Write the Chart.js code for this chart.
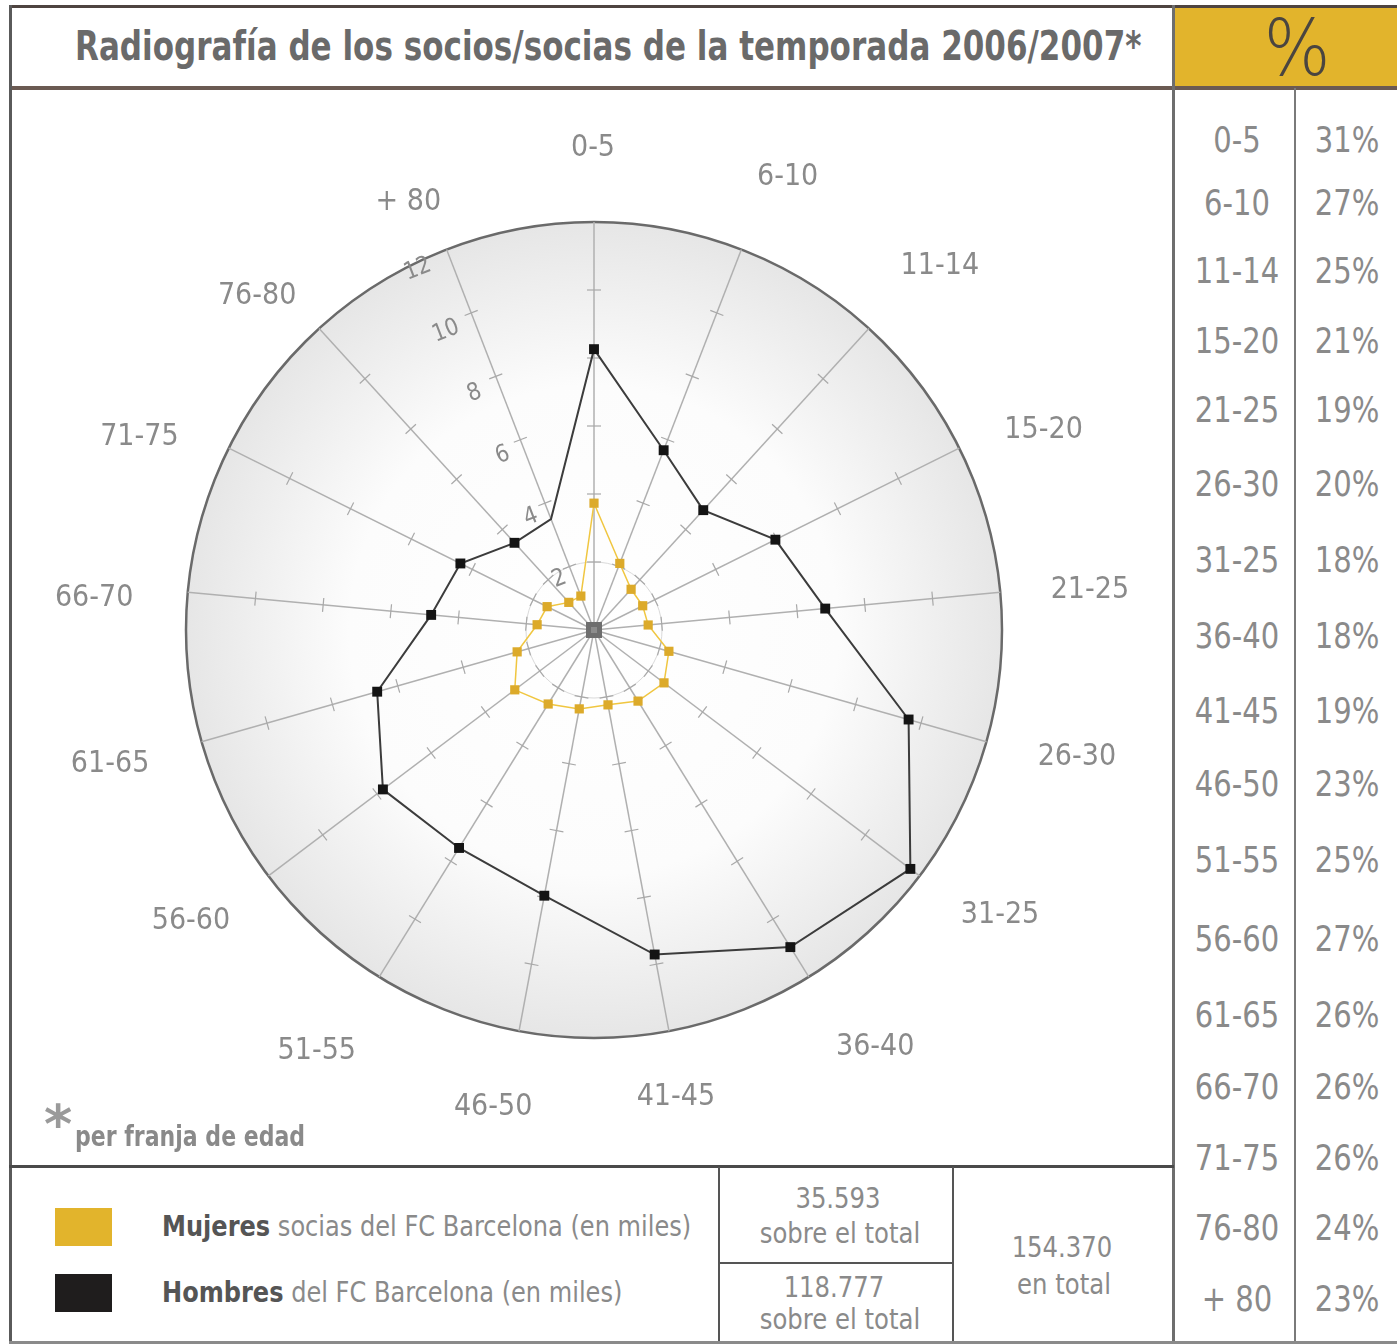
<!DOCTYPE html>
<html>
<head>
<meta charset="utf-8">
<script src="https://cdn.jsdelivr.net/npm/chart.js@4.4.1/dist/chart.umd.min.js"></script>
<style>
  body { margin: 0; background: #fff; font-family: "DejaVu Sans", sans-serif; }
  #page { position: relative; width: 1397px; height: 1344px; overflow: hidden; }
  .abs { position: absolute; white-space: nowrap; }
  .line { position: absolute; }
  .txt { position: absolute; color: #8a8a8a; white-space: nowrap; transform: translate(-50%, -50%) scaleX(0.84); }
  .narrow { transform-origin: left center; }
  #chart { position: absolute; left: 10px; top: 90px; }
</style>
</head>
<body>
<div id="page">
  <!-- cabecera -->
  <div class="abs" style="left:1174px;top:8px;width:223px;height:79px;background:#e2b42c;"></div>
  <div class="txt" style="left:1297px;top:48px;font-size:78px;font-weight:200;color:#4a4540;transform:translate(-50%,-50%) scaleX(0.9);">%</div>
  <div class="abs narrow" style="left:75px;top:22px;font-size:41px;font-weight:bold;color:#6a6a6a;transform:scaleX(0.757);">Radiografía de los socios/socias de la temporada 2006/2007*</div>

  <!-- marco -->
  <div class="line" style="left:9px;top:5px;width:1388px;height:3px;background:#4e4440;"></div>
  <div class="line" style="left:9px;top:86px;width:1388px;height:4px;background:#6b5a52;"></div>
  <div class="line" style="left:9px;top:5px;width:3px;height:1339px;background:#5a5a5a;"></div>
  <div class="line" style="left:1172px;top:5px;width:3px;height:1339px;background:#6e6e6e;"></div>
  <div class="line" style="left:1294px;top:88px;width:2px;height:1256px;background:#7a7a7a;"></div>
  <div class="line" style="left:9px;top:1165px;width:1165px;height:3px;background:#4a4a4a;"></div>
  <div class="line" style="left:718px;top:1167px;width:2px;height:177px;background:#555;"></div>
  <div class="line" style="left:952px;top:1167px;width:2px;height:177px;background:#555;"></div>
  <div class="line" style="left:718px;top:1262px;width:236px;height:2px;background:#555;"></div>
  <div class="line" style="left:9px;top:1341px;width:1388px;height:3px;background:#8a8a8a;"></div>

  <canvas id="chart" width="1162" height="1075"></canvas>

  <!-- nota -->
  <div class="abs" style="left:44px;top:1093px;font-size:54px;font-weight:bold;color:#9a9a9a;">*</div>
  <div class="abs narrow" style="left:75px;top:1120px;font-size:28px;font-weight:bold;color:#8a8a8a;transform:scaleX(0.787);">per franja de edad</div>

  <!-- leyenda -->
  <div id="legend"></div>
  <div class="txt" style="left:838px;top:1198px;font-size:29px;">35.593</div>
  <div class="txt" style="left:840px;top:1233px;font-size:29px;">sobre el total</div>
  <div class="txt" style="left:834px;top:1287px;font-size:29px;">118.777</div>
  <div class="txt" style="left:840px;top:1319px;font-size:29px;">sobre el total</div>
  <div class="txt" style="left:1062px;top:1247px;font-size:29px;">154.370</div>
  <div class="txt" style="left:1064px;top:1284px;font-size:29px;">en total</div>

  <div id="table"></div>
</div>

<script>
// franjas de edad
const categories = ['0-5', '6-10', '11-14', '15-20', '21-25', '26-30', '31-25', '36-40', '41-45',
    '46-50', '51-55', '56-60', '61-65', '66-70', '71-75', '76-80', '+ 80']
// socios en miles
const hombres = [8.26, 5.67, 4.77, 5.96, 6.83, 9.62, 11.66, 10.97, 9.71, 7.95, 7.54, 7.78, 6.63, 4.81, 4.39, 3.47, 3.5]
const mujeres = [3.73, 2.1, 1.62, 1.6, 1.6, 2.29, 2.58, 2.46, 2.24, 2.36, 2.56, 2.92, 2.35, 1.68, 1.54, 1.1, 1.07]
// % de mujeres por franja
const porcentajes = ['31%', '27%', '25%', '21%', '19%', '20%', '18%', '18%', '19%', '23%', '25%', '27%', '26%', '26%', '26%', '24%', '23%']
const radialTicks = [2, 4, 6, 8, 10, 12]

const legendItems = [
    { bold: 'Mujeres', rest: ' socias del FC Barcelona (en miles)', color: '#e2b42c' },
    { bold: 'Hombres', rest: ' del FC Barcelona  (en miles)', color: '#1f1d1d' }
]

// maquetación: filas de la tabla y retoques de las etiquetas del radar (colocadas a mano en el original)
const rowY = [140, 203, 271, 341, 410, 484, 560, 636, 711, 784, 860, 939, 1015, 1087, 1158, 1228, 1299]
const labelNudge = [[-1, -2], [13, -5], [9, -9], [2, 14], [-2, 4], [2, -4], [7, -4], [18, 9], [-10, -5],
    [-9, 5], [-14, 13], [-4, 2], [-3, 3], [-2, 12], [-7, 21], [0, 21], [-5, 20]]

const table = document.getElementById('table')
categories.forEach((cat, i) => {
    const a = document.createElement('div')
    a.className = 'txt'
    a.style.cssText = `left:1237px;top:${rowY[i]}px;font-size:35px;transform:translate(-50%,-50%) scaleX(0.83);`
    a.textContent = cat
    table.appendChild(a)
    const b = document.createElement('div')
    b.className = 'txt'
    b.style.cssText = `left:1347px;top:${rowY[i]}px;font-size:35px;transform:translate(-50%,-50%) scaleX(0.83);`
    b.textContent = porcentajes[i]
    table.appendChild(b)
})

const legend = document.getElementById('legend')
legendItems.forEach((item, i) => {
    const y = 1227 + i * 66
    const sw = document.createElement('div')
    sw.className = 'abs'
    sw.style.cssText = `left:55px;top:${y - 19}px;width:57px;height:38px;background:${item.color};`
    legend.appendChild(sw)
    const t = document.createElement('div')
    t.className = 'abs narrow'
    t.style.cssText = `left:162px;top:${y - 18}px;font-size:29px;color:#8a8a8a;transform:scaleX(0.83);`
    t.innerHTML = `<span style="color:#555;font-weight:bold;">${item.bold}</span>${item.rest}`
    legend.appendChild(t)
})

const spokeTicks = radialTicks.filter(v => v < 12)

const radarDecor = {
    id: 'radarDecor',
    beforeDraw(chart) {
        const r = chart.scales.r
        const ctx = chart.ctx
        const R = r.getDistanceFromCenterForValue(12)
        const g = ctx.createRadialGradient(r.xCenter, r.yCenter, 0, r.xCenter, r.yCenter, R)
        g.addColorStop(0, '#ffffff')
        g.addColorStop(0.6, '#fcfcfc')
        g.addColorStop(1, '#e6e6e6')
        ctx.save()
        ctx.beginPath()
        ctx.arc(r.xCenter, r.yCenter, R, 0, Math.PI * 2)
        ctx.fillStyle = g
        ctx.fill()
        ctx.restore()
    },
    beforeDatasetsDraw(chart) {
        const r = chart.scales.r
        const ctx = chart.ctx
        ctx.save()
        // marcas en cada radio
        ctx.strokeStyle = '#a8a8a8'
        ctx.lineWidth = 1.2
        categories.forEach((c, i) => {
            spokeTicks.forEach(v => {
                const p = r.getPointPosition(i, r.getDistanceFromCenterForValue(v))
                const px = -Math.sin(p.angle), py = Math.cos(p.angle)
                ctx.beginPath()
                ctx.moveTo(p.x - px * 7, p.y - py * 7)
                ctx.lineTo(p.x + px * 7, p.y + py * 7)
                ctx.stroke()
            })
        })
        // valores de la escala sobre el radio "+ 80"
        const last = categories.length - 1
        ctx.fillStyle = '#8a8a8a'
        ctx.font = '24px "DejaVu Sans", sans-serif'
        ctx.textAlign = 'center'
        ctx.textBaseline = 'middle'
        radialTicks.forEach(v => {
            const p = r.getPointPosition(last, r.getDistanceFromCenterForValue(v) - 8)
            const off = 10 + 2 * v
            const x = p.x + Math.sin(p.angle) * off
            const y = p.y - Math.cos(p.angle) * off
            ctx.save()
            ctx.translate(x, y)
            ctx.rotate(p.angle + Math.PI / 2)
            ctx.scale(0.88, 1)
            ctx.fillText(String(v), 0, 0)
            ctx.restore()
        })
        // cuadrado central
        ctx.fillStyle = '#6e6e6e'
        ctx.fillRect(r.xCenter - 8, r.yCenter - 8, 16, 16)
        ctx.fillStyle = '#8c8c8c'
        ctx.fillRect(r.xCenter - 3, r.yCenter - 3, 6, 6)
        ctx.restore()
    },
    afterDraw(chart) {
        const r = chart.scales.r
        const ctx = chart.ctx
        ctx.save()
        ctx.fillStyle = '#8a8a8a'
        ctx.font = '30px "DejaVu Sans", sans-serif'
        ctx.textAlign = 'center'
        ctx.textBaseline = 'middle'
        categories.forEach((c, i) => {
            // dirección unitaria del radio
            const p = r.getPointPosition(i, 1)
            const dx = p.x - r.xCenter, dy = p.y - r.yCenter
            const x = r.xCenter + dx * 500 + labelNudge[i][0]
            const y = r.yCenter + dy * 480 + labelNudge[i][1]
            ctx.save()
            ctx.translate(x, y)
            ctx.scale(0.9, 1)
            ctx.fillText(c, 0, 0)
            ctx.restore()
        })
        ctx.restore()
    }
}

new Chart(document.getElementById('chart'), {
    type: 'radar',
    data: {
        labels: categories,
        datasets: [{
            label: 'Hombres',
            data: hombres,
            borderColor: '#3c3c3c',
            borderWidth: 2,
            pointStyle: 'rect',
            pointRadius: c => c.dataIndex === categories.length - 1 ? 0 : 7,
            pointBackgroundColor: '#141414',
            pointBorderColor: '#141414',
            pointBorderWidth: 0,
            fill: false,
            tension: 0
        }, {
            label: 'Mujeres',
            data: mujeres,
            borderColor: '#f0c640',
            borderWidth: 1.5,
            pointStyle: 'rect',
            pointRadius: 6.5,
            pointBackgroundColor: '#dcaa2a',
            pointBorderColor: '#dcaa2a',
            pointBorderWidth: 0,
            fill: false,
            tension: 0
        }]
    },
    options: {
        responsive: false,
        animation: false,
        layout: { padding: { left: 176, right: 170, top: 132, bottom: 127 } },
        plugins: { legend: { display: false }, tooltip: { enabled: false } },
        scales: {
            r: {
                min: 0,
                max: 12,
                ticks: { stepSize: 2, display: false },
                pointLabels: { display: false },
                angleLines: { color: '#b0b0b0', lineWidth: 1.5 },
                grid: {
                    circular: true,
                    color: c => c.tick.value === 12 ? '#6a6a6a' : (c.tick.value === 2 ? '#dadada' : 'rgba(0,0,0,0)'),
                    lineWidth: c => c.tick.value === 12 ? 2.5 : 1
                }
            }
        }
    },
    plugins: [radarDecor]
})
</script>
</body>
</html>
